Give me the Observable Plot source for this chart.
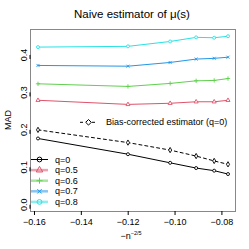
<!DOCTYPE html>
<html><head><meta charset="utf-8">
<script src="https://cdn.jsdelivr.net/npm/d3@7"></script>
<script src="https://cdn.jsdelivr.net/npm/@observablehq/plot@0.6"></script>
<style>body{margin:0;background:#fff}</style>
</head><body><div id="chart"></div>
<script>
const xValues = [-0.1585, -0.1201, -0.1021, -0.0910, -0.0833, -0.0774];
const q0 = [0.177, 0.135, 0.112, 0.098, 0.091, 0.082];
const q05 = [0.279, 0.268, 0.271, 0.275, 0.275, 0.279];
const q06 = [0.323, 0.316, 0.324, 0.331, 0.332, 0.337];
const q07 = [0.372, 0.370, 0.380, 0.389, 0.391, 0.394];
const q08 = [0.421, 0.423, 0.436, 0.447, 0.446, 0.450];
const biasCorrected = [0.200, 0.166, 0.146, 0.130, 0.117, 0.108];
const seriesNames = ["q=0", "q=0.5", "q=0.6", "q=0.7", "q=0.8"];
const seriesColors = ["#000000", "#DF536B", "#61D04F", "#2297E6", "#28E2E5"];
const seriesSymbols = ["circle", "triangle", "plus", "times", "circle"];
const xTicks = [-0.16, -0.14, -0.12, -0.10, -0.08];
const yTicks = [0, 0.1, 0.2, 0.3, 0.4];
const title = "Naive estimator of μ(s)";
const biasLabel = "Bias-corrected estimator (q=0)";

const seriesValues = [q0, q05, q06, q07, q08];
const rows = [];
seriesValues.forEach((vals, i) => vals.forEach((v, j) => rows.push({x: xValues[j], y: v, s: seriesNames[i]})));
const biasRows = biasCorrected.map((v, j) => ({x: xValues[j], y: v}));

const marks = [Plot.frame({stroke: "#888"})];
seriesNames.forEach((name, i) => {
  const d = rows.filter(r => r.s === name);
  marks.push(Plot.line(d, {x: "x", y: "y", stroke: seriesColors[i], strokeWidth: 1}));
  marks.push(Plot.dot(d, {x: "x", y: "y", stroke: seriesColors[i], fill: "white", symbol: seriesSymbols[i], r: 1.5, strokeWidth: 0.9}));
});
marks.push(Plot.line(biasRows, {x: "x", y: "y", stroke: "black", strokeWidth: 1, strokeDasharray: "3,3"}));
marks.push(Plot.dot(biasRows, {x: "x", y: "y", stroke: "black", fill: "white", symbol: "diamond", r: 1.6, strokeWidth: 0.9}));
marks.push(Plot.axisX({ticks: xTicks, tickFormat: d => d.toFixed(2).replace("-", "−"), tickSize: 4, tickPadding: 3, label: null, fontSize: 9}));
marks.push(Plot.axisY({ticks: yTicks, tickFormat: d => d.toFixed(1), tickSize: 4, tickPadding: 2, rotate: -90, textAnchor: "middle", label: null, fontSize: 9}));

const plot = Plot.plot({
  width: 249, height: 249,
  marginLeft: 30, marginRight: 14, marginTop: 29, marginBottom: 38,
  x: {domain: [-0.1617, -0.0742]},
  y: {domain: [-0.018, 0.468]},
  style: {fontFamily: "'Liberation Sans', Arial, sans-serif", fontSize: "9px", color: "black", background: "white"},
  marks
});
document.getElementById("chart").appendChild(plot);

const svg = d3.select(plot);
svg.append("text").attr("x", 132).attr("y", 18).attr("text-anchor", "middle")
  .attr("font-size", 11.5).attr("fill", "black").text(title);
svg.append("text").attr("transform", "translate(11,120) rotate(-90)").attr("text-anchor", "middle")
  .attr("font-size", 9).attr("fill", "black").text("MAD");
const xl = svg.append("text").attr("x", 131).attr("y", 239).attr("text-anchor", "middle")
  .attr("font-size", 9).attr("fill", "black");
xl.append("tspan").text("−n");
xl.append("tspan").attr("dy", -4).attr("font-size", 5.5).text("−2/5");

// legend (bottom-left)
const lg = svg.append("g").attr("text-anchor", "start");
seriesNames.forEach((name, i) => {
  const y = 159.5 + i * 10.6;
  lg.append("line").attr("x1", 31).attr("x2", 48).attr("y1", y).attr("y2", y)
    .attr("stroke", seriesColors[i]).attr("stroke-width", i === 0 ? 1 : 2.5).attr("stroke-opacity", i === 0 ? 1 : 0.55);
  const sym = d3.symbol().type([d3.symbolCircle, d3.symbolTriangle, d3.symbolCross, d3.symbolTimes, d3.symbolCircle][i]).size(18);
  lg.append("path").attr("d", i === 2 ? "M-3,0H3M0,-3V3" : (i === 3 ? "M-2.2,-2.2L2.2,2.2M-2.2,2.2L2.2,-2.2" : sym()))
    .attr("transform", `translate(39.5,${y})`).attr("fill", "none").attr("stroke", seriesColors[i]).attr("stroke-width", 1);
  lg.append("text").attr("x", 55).attr("y", y).attr("dy", "0.35em").attr("text-anchor", "start").attr("font-size", 9).attr("fill", "black").text(name);
});
const by = 122.3;
lg.append("line").attr("x1", 80).attr("x2", 97).attr("y1", by).attr("y2", by)
  .attr("stroke", "black").attr("stroke-dasharray", "3,3");
lg.append("path").attr("d", "M0,-2.8L2.8,0L0,2.8L-2.8,0Z").attr("transform", `translate(88.5,${by})`)
  .attr("fill", "white").attr("stroke", "black").attr("stroke-width", 1);
lg.append("text").attr("x", 106).attr("y", by).attr("dy", "0.35em").attr("text-anchor", "start").attr("font-size", 9).attr("fill", "black").text(biasLabel);
</script></body></html>
